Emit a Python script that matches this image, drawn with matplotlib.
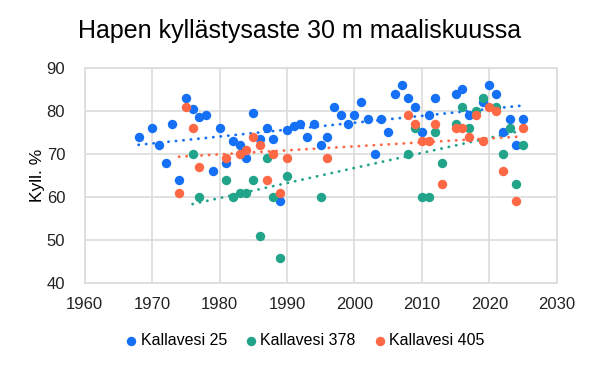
import numpy as np
import matplotlib
matplotlib.use("Agg")
import matplotlib.pyplot as plt

plt.rcParams['font.family'] = ['Liberation Sans', 'DejaVu Sans']

# Kallavesi 25
years_25 = [1968, 1970, 1971, 1972, 1973, 1974, 1975, 1976, 1977, 1978, 1979, 1980,
            1981, 1982, 1983, 1984, 1985, 1986, 1987, 1988, 1989, 1990, 1991, 1992,
            1993, 1994, 1995, 1996, 1997, 1998, 1999, 2000, 2001, 2002, 2003, 2004,
            2005, 2006, 2007, 2008, 2009, 2010, 2011, 2012, 2015, 2016, 2017, 2019,
            2020, 2021, 2022, 2023, 2024, 2025]
vals_25 = [74, 76, 72, 68, 77, 64, 83, 80.5, 78.5, 79, 66, 76,
           68, 73, 72, 69, 79.5, 73.5, 76, 73.5, 59, 75.5, 76.5, 77,
           74, 77, 72, 74, 81, 79, 77, 79, 82, 78, 70, 78,
           75, 84, 86, 83, 81, 75, 79, 83, 84, 85, 79, 82,
           86, 84, 75, 78, 72, 78]

# Kallavesi 378
years_378 = [1976, 1977, 1981, 1982, 1983, 1984, 1985, 1986, 1987, 1988, 1989, 1990,
             1995, 2008, 2009, 2010, 2011, 2012, 2013, 2015, 2016, 2017, 2018, 2019,
             2021, 2022, 2023, 2024, 2025]
vals_378 = [70, 60, 64, 60, 61, 61, 64, 51, 69, 60, 46, 65,
            60, 70, 76, 60, 60, 75, 68, 77, 81, 76, 80, 83,
            81, 70, 76, 63, 72]

# Kallavesi 405
years_405 = [1974, 1975, 1976, 1977, 1981, 1983, 1984, 1985, 1986, 1987, 1988, 1989,
             1990, 1996, 2008, 2009, 2010, 2011, 2012, 2013, 2015, 2016, 2017, 2018,
             2019, 2020, 2021, 2022, 2024, 2025]
vals_405 = [61, 81, 76, 67, 69, 70, 71, 74, 72, 64, 70, 61,
            69, 69, 79, 77, 73, 73, 77, 63, 76, 76, 74, 79,
            73, 81, 80, 66, 59, 76]

series = [
    ("Kallavesi 25", years_25, vals_25, "#1570F6"),
    ("Kallavesi 378", years_378, vals_378, "#22A48A"),
    ("Kallavesi 405", years_405, vals_405, "#FF6845"),
]

fig = plt.figure(figsize=(6, 3.7), dpi=100)
ax = fig.add_axes([0.141, 0.234, 0.787, 0.583])

for name, x, y, color in series:
    x = np.array(x)
    y = np.array(y)
    ax.scatter(x, y, s=46, color=color, label=name, zorder=3, linewidths=0)

for name, x, y, color in series:
    x = np.array(x)
    y = np.array(y)
    k, b = np.polyfit(x, y, 1)
    xs = np.array([x.min(), x.max()])
    ax.plot(xs, k * xs + b, color=color, lw=2.0, linestyle=(0, (0.1, 2.6)),
            dash_capstyle='round', zorder=2)

ax.set_xlim(1960, 2030)
ax.set_ylim(40, 90)
ax.set_xticks(range(1960, 2031, 10))
ax.set_yticks(range(40, 91, 10))
ax.grid(True, color="#dcdcdc", lw=1.2)
ax.set_axisbelow(True)
for s in ax.spines.values():
    s.set_color("#dcdcdc")
    s.set_linewidth(1.2)
ax.tick_params(length=0, labelsize=12, colors="#222222")
ax.tick_params(axis='y', pad=14)
ax.tick_params(axis='x', pad=10)
ax.set_ylabel("Kyll. %", fontsize=12.5, labelpad=1)

fig.text(0.5, 0.915, "Hapen kyllästysaste 30 m maaliskuussa", ha="center",
         va="center", fontsize=18)

fig.legend(loc="center", bbox_to_anchor=(0.505, 0.08), ncol=3, frameon=False,
           fontsize=11.5, handletextpad=0.0, columnspacing=0.9, markerscale=1.0,
           handlelength=1.2)

fig.savefig("out.png", dpi=100)
